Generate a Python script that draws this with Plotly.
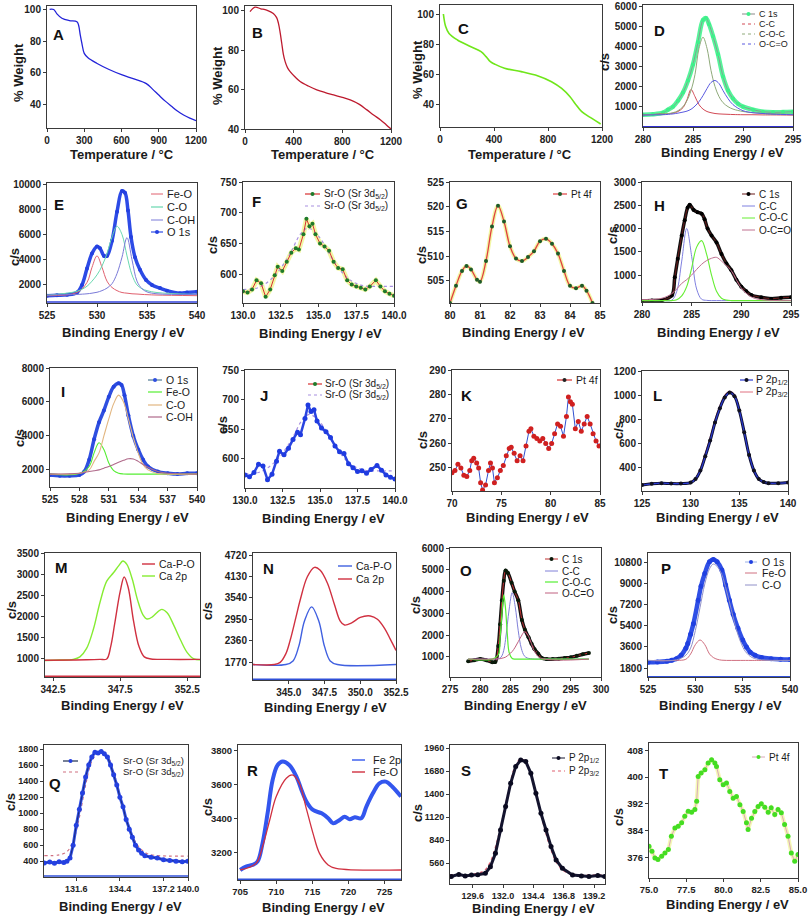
import plotly.graph_objects as go

# ================= DATA =================
# A-C: TGA curves
A_temp = [21, 54, 80, 120, 180, 241, 254, 268, 281, 300, 330, 400, 500, 600, 700, 800, 850, 900, 950, 1000, 1050, 1100, 1150, 1200]
A_weight = [100.4, 100.3, 97.5, 94.7, 93.2, 92.5, 90.4, 84, 78.7, 72.3, 69.5, 66, 62, 58.7, 56, 53, 49.5, 45.7, 42, 38.7, 35.5, 33, 31, 29.4]
B_temp = [41, 82, 130, 178, 233, 260, 275, 290, 302, 315, 330, 350, 371, 410, 453, 520, 590, 660, 728, 800, 865, 940, 1002, 1060, 1112, 1160, 1200]
B_weight = [99.5, 101.8, 101, 100.3, 98.6, 96.5, 93.6, 88.5, 83.5, 78, 74.2, 71, 69.1, 66.5, 64.1, 61.8, 59.9, 58.5, 57.3, 56, 54.8, 52.5, 49.7, 47, 44.7, 42.2, 40]
C_temp = [25, 42, 67, 129, 229, 304, 341, 373, 403, 478, 602, 727, 826, 901, 963, 1000, 1050, 1125, 1190]
C_weight = [100, 91.6, 87, 82.7, 78.2, 74.9, 71.6, 68.2, 66.7, 63.8, 61.6, 58.7, 54.9, 50.4, 44.9, 40.4, 34.9, 30.4, 26.7]

# D: C 1s
D_be = [280, 281, 282, 282.5, 283, 283.5, 284, 284.5, 285, 285.5, 286, 286.3, 286.6, 287, 287.5, 288, 288.5, 289, 289.5, 290, 291, 292, 293, 294, 295]
D_c1s = [600, 620, 700, 850, 1000, 1300, 1700, 2300, 3100, 4200, 5300, 5400, 5100, 4500, 3600, 2500, 1800, 1400, 1150, 1000, 850, 750, 720, 730, 750]
D_fx = [280, 281, 282, 283, 283.5, 284, 284.4, 284.8, 285.2, 285.6, 286, 286.4, 286.8, 287.2, 287.6, 288, 288.5, 289, 290, 291, 292, 293, 295]
D_cc = [600, 610, 630, 680, 760, 950, 1350, 1850, 1500, 1100, 880, 760, 700, 660, 640, 630, 620, 610, 600, 600, 590, 590, 580]
D_coc = [600, 610, 630, 700, 800, 1000, 1300, 1800, 2600, 3900, 4450, 3900, 2800, 2000, 1500, 1200, 1000, 880, 760, 700, 670, 650, 620]
D_occ = [580, 590, 600, 640, 680, 730, 780, 870, 1030, 1250, 1550, 1900, 2200, 2300, 2150, 1800, 1400, 1100, 800, 700, 660, 630, 600]

# E: O 1s
E_be = [525, 526, 527, 528, 528.5, 529, 529.5, 530, 530.3, 530.7, 531, 531.5, 532, 532.5, 532.8, 533.1, 533.4, 533.8, 534.3, 534.9, 535.5, 536.3, 537, 538.3, 539, 540]
E_o1s = [1150, 1180, 1220, 1400, 2000, 3300, 4500, 5050, 4900, 4300, 4300, 5500, 7800, 9450, 9300, 7900, 5800, 4200, 3200, 2400, 2000, 1750, 1550, 1350, 1400, 1470]
E_fx = [525, 528, 529, 529.5, 530, 530.5, 531, 531.5, 532, 532.5, 533, 533.5, 534, 534.5, 535, 536, 540]
E_feo = [1150, 1400, 2200, 3400, 4300, 3400, 2300, 1800, 1550, 1400, 1350, 1300, 1280, 1250, 1230, 1200, 1150]
E_co = [1200, 1500, 1900, 2300, 2800, 3500, 4500, 5800, 6650, 6000, 4300, 2800, 2000, 1700, 1550, 1400, 1250]
E_coh = [1200, 1250, 1300, 1350, 1420, 1550, 1750, 2100, 2900, 4200, 5750, 4000, 2300, 1700, 1450, 1300, 1250]

# F / J: Sr 3d
F_be = [130.0, 130.3, 130.6, 130.9, 131.2, 131.5, 131.8, 132.1, 132.3, 132.6, 132.9, 133.2, 133.5, 133.7, 134.0, 134.2, 134.4, 134.6, 134.8, 135.1, 135.4, 135.7, 136.0, 136.3, 136.6, 136.9, 137.2, 137.5, 137.8, 138.1, 138.4, 138.8, 139.1, 139.4, 139.7, 140.0]
F_cps = [572, 570, 575, 590, 585, 563, 575, 598, 612, 605, 620, 635, 642, 640, 665, 690, 678, 682, 665, 650, 645, 638, 620, 610, 608, 590, 583, 580, 578, 575, 580, 590, 580, 572, 568, 565]
J_cps = [573, 570, 577, 591, 588, 565, 574, 596, 613, 607, 618, 633, 645, 641, 668, 691, 680, 683, 664, 652, 646, 636, 622, 612, 609, 592, 585, 579, 580, 576, 582, 589, 581, 573, 569, 566]
F_fx = [130, 131, 132, 133, 133.8, 134.3, 135, 136, 137, 138, 139, 140]
F_fit = [575, 578, 595, 628, 665, 675, 662, 622, 592, 581, 580, 580]

# G: Pt 4f
G_be = [80.0, 80.2, 80.4, 80.55, 80.7, 80.9, 81.0, 81.2, 81.4, 81.6, 81.8, 82.0, 82.2, 82.4, 82.6, 82.8, 83.0, 83.2, 83.4, 83.6, 83.8, 84.0, 84.2, 84.4, 84.55, 84.75]
G_cps = [500.5, 504, 507, 508, 507.3, 505.2, 504.8, 509, 516, 520.2, 517, 512, 509.5, 509, 509.8, 511, 513, 513.5, 512.5, 510.5, 507, 504, 503.5, 504, 503, 500.5]

# H: C 1s
H_be = [280, 281, 282, 283, 283.3, 283.6, 284, 284.3, 284.6, 284.8, 285.2, 285.6, 286, 286.3, 286.6, 287, 287.5, 288, 288.5, 289, 289.5, 290, 290.5, 291, 292, 293, 294, 295]
H_c1s = [440, 450, 460, 560, 950, 1350, 1850, 2180, 2450, 2510, 2400, 2350, 2320, 2200, 2000, 1850, 1700, 1450, 1250, 1100, 900, 750, 650, 570, 520, 490, 510, 520]
H_fx = [280, 282, 283, 283.5, 284, 284.5, 285, 285.5, 286, 286.5, 287, 287.5, 288, 288.5, 289, 290, 291, 292, 295]
H_cc = [450, 450, 460, 650, 1300, 2000, 1400, 700, 480, 455, 450, 450, 450, 450, 450, 450, 450, 450, 450]
H_coc = [450, 450, 450, 470, 550, 750, 1150, 1600, 1740, 1450, 1000, 650, 500, 460, 450, 450, 450, 450, 450]
H_occ = [470, 500, 600, 700, 820, 900, 1000, 1120, 1230, 1310, 1360, 1380, 1300, 1200, 1090, 720, 530, 470, 450]

# I: O 1s
I_be = [525, 526, 527, 528, 528.5, 529, 529.5, 530, 530.5, 531, 531.5, 532, 532.3, 532.6, 533, 533.5, 534, 534.5, 535, 536, 537, 538, 539, 540]
I_o1s = [1700, 1650, 1650, 1700, 1900, 2600, 3800, 4800, 5500, 6300, 6900, 7100, 7000, 6400, 5200, 4000, 3200, 2600, 2200, 1900, 1800, 1750, 1800, 1800]
I_fx = [525, 528, 529, 529.5, 530, 530.5, 531, 531.5, 532, 532.5, 533, 533.5, 534, 534.5, 535, 536, 537, 540]
I_feo = [1750, 1780, 2200, 3000, 3600, 3200, 2400, 1950, 1800, 1760, 1750, 1750, 1750, 1750, 1750, 1750, 1750, 1750]
I_co = [1750, 1800, 2000, 2500, 3000, 4000, 5000, 5900, 6400, 6000, 5000, 3900, 3000, 2300, 2000, 1780, 1750, 1750]
I_coh = [1750, 1800, 1900, 1950, 2000, 2100, 2200, 2320, 2450, 2560, 2650, 2640, 2500, 2320, 2150, 1900, 1800, 1750]

# K: Pt 4f
K_be = [70.0, 70.3, 70.6, 70.9, 71.2, 71.5, 71.8, 72.0, 72.2, 72.5, 72.7, 72.9, 73.1, 73.4, 73.7, 73.9, 74.1, 74.3, 74.6, 74.9, 75.2, 75.5, 75.8, 76.0, 76.3, 76.6, 76.9, 77.2, 77.5, 77.8, 78.0, 78.3, 78.6, 78.9, 79.2, 79.5, 79.8, 80.1, 80.4, 80.7, 81.0, 81.3, 81.6, 81.8, 82.0, 82.2, 82.5, 82.8, 83.1, 83.4, 83.7, 84.0, 84.3, 84.6, 84.9]
K_cps = [248, 249, 251.5, 250, 247, 246.5, 249, 253, 254, 252, 250, 244, 241, 243, 249, 252, 250, 244, 246, 249, 251, 255, 258, 258.5, 256, 253, 255, 253, 259, 265, 266, 263, 262, 261, 262, 260, 258, 260, 264, 268, 267, 263, 271, 279, 277, 276, 266, 269, 265, 268, 271, 268, 264, 261, 259]

# L: P 2p
L_be = [125, 126, 127, 128, 129, 130, 130.5, 131, 131.5, 132, 132.5, 133, 133.5, 134, 134.5, 135, 135.5, 136, 136.5, 137, 137.5, 138, 139, 140]
L_p12 = [250, 260, 265, 262, 262, 270, 300, 370, 490, 620, 770, 890, 980, 1020, 990, 870, 690, 500, 370, 300, 275, 265, 265, 270]
L_p32 = [255, 262, 265, 263, 263, 272, 305, 385, 510, 640, 790, 905, 995, 1030, 1000, 875, 690, 500, 365, 298, 274, 265, 265, 270]

# M: Ca 2p
M_be = [341.9, 343, 344, 344.5, 345, 345.5, 346, 346.5, 347, 347.4, 347.7, 348, 348.4, 348.8, 349.2, 349.5, 349.9, 350.3, 350.6, 351, 351.5, 352, 352.5, 353, 353.45]
M_ca2p = [965, 975, 990, 1050, 1250, 1700, 2350, 2850, 3050, 3220, 3330, 3250, 2900, 2400, 2050, 1950, 2000, 2120, 2180, 2100, 1800, 1450, 1150, 1000, 980]
M_fx = [341.9, 345, 346, 346.5, 346.8, 347.1, 347.5, 347.8, 348.1, 348.5, 348.9, 349.3, 349.8, 351, 353.45]
M_cpo = [970, 980, 990, 1000, 1300, 1850, 2600, 2950, 2700, 1900, 1300, 1050, 1000, 990, 990]

# N: Ca 2p
N_be = [342.5, 344, 344.4, 344.8, 345.1, 345.5, 345.8, 346.3, 346.8, 347.2, 347.7, 348.2, 348.6, 348.9, 349.4, 350, 350.7, 351.2, 351.7, 352.1, 352.5]
N_ca2p = [1700, 1700, 1760, 2000, 2370, 3000, 3480, 4120, 4380, 4300, 3950, 3350, 2900, 2790, 2850, 3000, 3040, 2950, 2700, 2400, 2090]
N_fx = [342.5, 344.8, 345.3, 345.7, 346.1, 346.6, 347.1, 347.5, 347.9, 348.4, 352.5]
N_cpo = [1700, 1700, 1800, 2200, 2900, 3290, 2900, 2200, 1800, 1700, 1700]

# O: C 1s
O_be = [278, 279, 280, 281, 282, 282.5, 283, 283.3, 283.6, 283.9, 284.2, 284.6, 285.2, 285.7, 286.3, 286.9, 287.4, 288, 288.5, 289, 289.6, 290.2, 291, 292, 293, 294, 295, 296, 297, 298]
O_c1s = [800, 850, 900, 850, 760, 770, 1500, 2500, 3600, 4500, 4970, 4850, 4400, 4000, 3600, 2700, 2250, 1900, 1600, 1350, 1150, 950, 900, 900, 920, 950, 980, 1050, 1120, 1180]
O_fx = [278, 282, 283, 283.3, 283.6, 283.9, 284.2, 284.5, 284.8, 285.3, 285.8, 286.3, 286.8, 287.3, 287.8, 288.3, 289, 290, 298]
O_cc = [900, 900, 920, 950, 1050, 1300, 1800, 2500, 3200, 3950, 3300, 2200, 1400, 1050, 950, 920, 900, 900, 900]
O_coc = [900, 900, 1100, 1900, 3000, 3850, 3200, 2000, 1200, 930, 900, 900, 900, 900, 900, 900, 900, 900, 900]
O_occ = [900, 900, 910, 920, 940, 960, 990, 1050, 1120, 1250, 1450, 1700, 1950, 2150, 2050, 1750, 1250, 950, 900]

# P: O 1s
P_be = [525, 526, 527, 527.5, 528, 528.5, 529, 529.2, 529.5, 529.8, 530.3, 530.6, 531, 531.5, 531.9, 532.3, 532.8, 533.2, 533.6, 534, 534.5, 535, 535.4, 535.8, 536.3, 537, 538, 539, 540]
P_o1s = [2300, 2320, 2380, 2460, 2600, 2890, 3500, 3900, 4700, 5600, 7600, 8800, 9900, 10900, 11100, 10900, 10200, 8900, 7600, 6400, 5200, 4200, 3600, 3150, 2900, 2700, 2600, 2550, 2520]
P_fx = [525, 528, 529, 529.5, 530, 530.5, 531, 531.5, 531.9, 532.3, 532.8, 533.3, 533.8, 534.3, 534.8, 535.3, 536, 537, 540]
P_feo = [2450, 2450, 2550, 3000, 3800, 4200, 3800, 3000, 2700, 2550, 2470, 2450, 2450, 2450, 2450, 2450, 2450, 2450, 2450]
P_co = [2450, 2500, 2900, 3500, 5000, 7000, 9000, 10300, 10700, 10500, 9800, 8400, 6800, 5200, 4000, 3200, 2700, 2500, 2450]

# Q: Sr 3d
Q_be = [129.55, 129.9, 130.2, 130.5, 130.8, 131.0, 131.2, 131.4, 131.6, 131.8, 132.0, 132.2, 132.4, 132.6, 132.8, 133.0, 133.2, 133.4, 133.6, 133.8, 134.0, 134.2, 134.4, 134.6, 134.8, 135.0, 135.2, 135.4, 135.6, 135.8, 136.0, 136.4, 136.8, 137.2, 137.6, 138.0, 138.4, 138.75]
Q_cps = [380, 390, 375, 395, 385, 400, 440, 600, 850, 1050, 1250, 1450, 1600, 1700, 1760, 1750, 1770, 1740, 1700, 1600, 1480, 1350, 1200, 1080, 920, 800, 700, 600, 540, 500, 470, 450, 440, 420, 410, 400, 395, 400]
Q_fx = [129.55, 130.5, 131, 131.4, 131.8, 132.2, 132.6, 133, 133.3, 133.7, 134.1, 134.5, 134.9, 135.3, 135.7, 136.1, 136.6, 137.5, 138.75]
Q_fit = [470, 480, 520, 650, 950, 1350, 1650, 1760, 1770, 1680, 1450, 1150, 880, 680, 560, 500, 475, 465, 465]
Q_ticks = [131.6, 134.4, 137.2, 138.77]
Q_ticklabels = ["131.6", "134.4", "137.2", "140.0"]

# R: Fe 2p
R_be = [705, 705.8, 706.7, 707.4, 708.1, 708.8, 709.5, 710.2, 710.9, 711.8, 712.8, 713.5, 714.2, 715.1, 716.3, 717.2, 717.9, 718.8, 719.5, 720.2, 720.9, 721.8, 722.5, 723.4, 724.3, 725.2, 726.1, 727.3]
R_fe2p = [3096, 3116, 3126, 3145, 3253, 3430, 3627, 3715, 3735, 3715, 3647, 3568, 3499, 3450, 3430, 3401, 3371, 3391, 3410, 3395, 3407, 3401, 3470, 3548, 3607, 3617, 3587, 3529]
R_fx = [705, 707.2, 708.1, 709.1, 710, 711.4, 712.3, 713.2, 714.1, 715.1, 716, 717.2, 718.3, 727.3]
R_feo = [3096, 3135, 3233, 3391, 3529, 3637, 3656, 3607, 3470, 3312, 3194, 3126, 3106, 3096]

# S: P 2p
S_be = [127.9, 128.5, 129.0, 129.5, 130.0, 130.6, 131.0, 131.4, 131.8, 132.2, 132.6, 133.0, 133.4, 133.8, 134.2, 134.6, 135.0, 135.4, 135.8, 136.2, 136.7, 137.5, 138.2, 138.8, 139.5, 140.05]
S_p12 = [400, 425, 405, 418, 420, 438, 519, 682, 966, 1250, 1534, 1737, 1818, 1798, 1656, 1412, 1169, 966, 763, 600, 499, 418, 405, 398, 410, 398]
S_fx = [127.8, 129.5, 130.5, 131.0, 131.4, 131.8, 132.2, 132.6, 133.0, 133.4, 133.8, 134.2, 134.6, 135.0, 135.4, 135.8, 136.2, 136.7, 137.5, 140.07]
S_fit = [420, 425, 470, 580, 760, 1000, 1280, 1560, 1760, 1830, 1790, 1640, 1400, 1150, 920, 720, 580, 480, 430, 420]

# T: Pt 4f
T_be = [75.0, 75.2, 75.4, 75.6, 75.85, 76.07, 76.3, 76.5, 76.74, 76.96, 77.19, 77.4, 77.63, 77.86, 78.08, 78.2, 78.3, 78.5, 78.75, 78.97, 79.2, 79.42, 79.53, 79.75, 79.98, 80.2, 80.42, 80.65, 80.87, 81.1, 81.32, 81.54, 81.65, 81.88, 82.1, 82.32, 82.54, 82.77, 83.0, 83.2, 83.44, 83.66, 83.88, 84.1, 84.33, 84.55, 84.78, 85.0]
T_cps = [379.3, 377.8, 375.8, 375.3, 376.3, 377.3, 378.3, 382.3, 384.8, 385.3, 386.3, 388.3, 389.8, 389.5, 390.3, 392.8, 400.2, 401.2, 402.2, 404.2, 405.2, 404.2, 403.2, 399.2, 397.7, 398.2, 395.7, 393.7, 394.2, 391.7, 389.7, 386.3, 384.3, 387.7, 389.7, 391.2, 392, 391, 389.5, 390.8, 388.8, 390.3, 389.3, 385.8, 382.3, 377.3, 374.8, 376.8]

# ================= LAYOUT =================
W, H = 810, 920
FONT = "Liberation Sans, Arial, sans-serif"
TEMP = "Temperature / °C"
BE = "Binding Energy / eV"


def X(p):
    return p / W


def Y(p):
    return 1 - p / H


# letter, box (l, t, r, b) px, x range, x ticks, x ticktext, x fmt, y range, y ticks,
# y title, y title pos, x title, x title pos, letter pos, tick font size
panels = [
    ("A", (47, 6, 196, 128), [0, 1200], [0, 300, 600, 900, 1200], None, None, [24.7, 102.5], [40, 60, 80, 100], "% Weight", (18, 73), TEMP, (122, 154), (58, 34), 10),
    ("B", (245, 6, 391, 129), [0, 1200], [0, 400, 800, 1200], None, None, [40, 102.4], [40, 60, 80, 100], "% Weight", (217, 75), TEMP, (323, 155), (257, 33), 10),
    ("C", (440, 5, 602, 127), [0, 1200], [0, 400, 800, 1200], None, None, [24.7, 106], [40, 60, 80, 100], "% Weight", (417, 70), TEMP, (520, 154), (463, 28), 10),
    ("D", (643, 5, 793, 127), [280, 295], [280, 285, 290, 295], None, None, [-10, 6050], [1000, 2000, 3000, 4000, 5000, 6000], "c/s", (605, 62), BE, (722, 153), (659, 30), 10),
    ("E", (47, 183, 197, 303), [525, 540], [525, 530, 535, 540], None, None, [570, 10080], [2000, 4000, 6000, 8000, 10000], "c/s", (14, 257), BE, (123, 332), (59, 204), 10),
    ("F", (243, 182, 394, 303), [130, 140], [130, 132.5, 135, 137.5, 140], None, ".1f", [553, 750], [600, 650, 700, 750], "c/s", (213, 245), BE, (320, 333), (256, 202), 10),
    ("G", (450, 182, 600, 303), [80, 85], [80, 81, 82, 83, 84, 85], None, None, [500.5, 525], [505, 510, 515, 520, 525], "c/s", (421, 255), BE, (523, 332), (462, 203), 10),
    ("H", (642, 182, 791, 302), [280, 295], [280, 285, 290, 295], None, None, [420, 3000], [1000, 1500, 2000, 2500, 3000], "c/s", (612, 235), BE, (718, 332), (659, 205), 10),
    ("I", (50, 368, 197, 487), [525, 540], [525, 528, 531, 534, 537, 540], None, None, [990, 8000], [2000, 4000, 6000, 8000], "c/s", (19, 438), BE, (127, 517), (63, 391), 10),
    ("J", (245, 370, 395, 488), [130, 140], [130, 132.5, 135, 137.5, 140], None, ".1f", [551, 750], [600, 650, 700, 750], "c/s", (223, 425), BE, (323, 518), (264, 395), 10),
    ("K", (452, 370, 600, 491), [70, 85], [70, 75, 80, 85], None, None, [240.6, 290], [250, 260, 270, 280, 290], "c/s", (422, 440), BE, (527, 517), (467, 395), 10),
    ("L", (642, 371, 788, 491), [125, 140], [125, 130, 135, 140], None, None, [200, 1200], [400, 600, 800, 1000, 1200], "c/s", (618, 430), BE, (717, 517), (657, 396), 10),
    ("M", (45, 553, 200, 677), [341.9, 353.45], [342.5, 347.5, 352.5], None, ".1f", [571, 3520], [1000, 1500, 2000, 2500, 3000, 3500], "c/s", (11, 610), BE, (122, 705), (61, 567), 10),
    ("N", (253, 553, 396, 680), [342.5, 352.5], [345, 347.5, 350, 352.5], None, ".1f", [1274, 4775], [1770, 2360, 2950, 3540, 4130, 4720], "c/s", (207, 611), BE, (325, 707), (268, 568), 10),
    ("O", (450, 548, 601, 677), [275, 300], [275, 280, 285, 290, 295, 300], None, None, [78, 6000], [1000, 2000, 3000, 4000, 5000, 6000], "c/s", (415, 605), BE, (525, 705), (466, 570), 10),
    ("P", (648, 553, 790, 677), [525, 540], [525, 530, 535, 540], None, None, [1030, 11650], [1800, 3600, 5400, 7200, 9000, 10800], "c/s", (612, 615), BE, (720, 705), (666, 568), 10),
    ("Q", (44, 745, 188, 877), [129.53, 138.77], Q_ticks, Q_ticklabels, None, [204, 1850], [400, 600, 800, 1000, 1200, 1400, 1600, 1800], "c/s", (10, 802), BE, (120, 906), (55, 783), 9),
    ("R", (238, 745, 401, 880), [704.7, 727.3], [705, 710, 715, 720, 725], None, None, [3037, 3833], [3200, 3400, 3600, 3800], "c/s", (207, 807), BE, (323, 907), (252, 770), 9.5),
    ("S", (450, 745, 605, 884), [127.8, 140.07], [129.6, 132.0, 134.4, 136.8, 139.2], None, ".1f", [308, 2000], [560, 840, 1120, 1400, 1680, 1960], "c/s", (417, 813), BE, (533, 908), (466, 770), 9),
    ("T", (649, 743, 798, 878), [75, 85], [75, 77.5, 80, 82.5, 85], None, ".1f", [369.8, 410.2], [376, 384, 392, 400, 408], "c/s", (618, 817), BE, (727, 904), (663, 773), 9.5),
]

fig = go.Figure()
layout = dict(width=W, height=H, autosize=False,
              margin=dict(l=0, r=0, t=0, b=0, pad=0, autoexpand=False),
              paper_bgcolor="white", plot_bgcolor="white", showlegend=False)
annotations = []
shapes = []
AX = "#3a3a3a"
titlefont = dict(family=FONT, size=13, color="#1a1a1a", weight="bold")

idx = {}
for i, p in enumerate(panels, start=1):
    (letter, box, xr, xt, xtt, xfmt, yr, yt, ytitle, ypos, xtitle, xpos, lpos, tfs) = p
    idx[letter] = i
    l, t, r, b = box
    tickfont = dict(family=FONT, size=tfs, color="#222", weight="bold")
    xk = "xaxis" if i == 1 else f"xaxis{i}"
    yk = "yaxis" if i == 1 else f"yaxis{i}"
    xa = dict(domain=[X(l), X(r)], range=xr, anchor="y" if i == 1 else f"y{i}",
              tickvals=xt, showline=True, mirror=True, linecolor=AX, linewidth=1,
              ticks="outside", ticklen=3, tickcolor=AX, showgrid=False, zeroline=False,
              tickfont=tickfont, tickangle=0, fixedrange=True, automargin=False)
    if xtt is not None:
        xa["ticktext"] = xtt
    if xfmt:
        xa["tickformat"] = xfmt
    ya = dict(domain=[Y(b), Y(t)], range=yr, anchor="x" if i == 1 else f"x{i}",
              tickvals=yt, tickformat="d", showline=True, mirror=True, linecolor=AX, linewidth=1,
              ticks="outside", ticklen=3, tickcolor=AX, showgrid=False, zeroline=False,
              tickfont=tickfont, fixedrange=True, automargin=False)
    layout[xk] = xa
    layout[yk] = ya
    if ytitle:
        annotations.append(dict(text=ytitle, x=X(ypos[0]), y=Y(ypos[1]), xref="paper", yref="paper",
                                textangle=-90, showarrow=False, xanchor="center", yanchor="middle",
                                font=titlefont))
    annotations.append(dict(text=xtitle, x=X(xpos[0]), y=Y(xpos[1]), xref="paper", yref="paper",
                            showarrow=False, xanchor="center", yanchor="middle", font=titlefont))
    annotations.append(dict(text=letter, x=X(lpos[0]), y=Y(lpos[1]), xref="paper", yref="paper",
                            showarrow=False, xanchor="center", yanchor="middle",
                            font=dict(family=FONT, size=15, color="#111", weight="bold")))


def tr(letter, x, y, color, width=1.0, dash="solid", shape="spline", mcolor=None, msize=3, mode=None):
    i = idx[letter]
    if mode is None:
        mode = "lines+markers" if mcolor else "lines"
    kw = dict(x=x, y=y, mode=mode, xaxis="x" if i == 1 else f"x{i}", yaxis="y" if i == 1 else f"y{i}",
              line=dict(color=color, width=width, dash=dash, shape=shape), hoverinfo="skip", showlegend=False)
    if mcolor:
        kw["marker"] = dict(color=mcolor, size=msize, line=dict(width=0))
    fig.add_trace(go.Scatter(**kw))


def hline(letter, xr, yv, color, width=1.2):
    tr(letter, xr, [yv, yv], color, width=width, shape="linear")


# A-C
tr("A", A_temp, A_weight, "#2323d8", 1.3)
tr("B", B_temp, B_weight, "#bd1a2e", 1.3)
tr("C", C_temp, C_weight, "#6fe61a", 1.6)

# D
hline("D", [280, 295], 0, "#3030d0", 1.5)
tr("D", D_be, D_c1s, "#55f59a", 4.5)
tr("D", D_be, D_c1s, "#8a8a8a", 0.8, mcolor="#3ef08a", msize=4)
tr("D", D_fx, D_cc, "#d24a55", 1)
tr("D", D_fx, D_coc, "#8faa7a", 1)
tr("D", D_fx, D_occ, "#5a5ae0", 1)

# E
hline("E", [525, 540], 640, "#3040d8", 1.5)
tr("E", E_be, E_o1s, "#2d4be6", 3.5)
tr("E", E_be, E_o1s, "#2d4be6", 1, mcolor="#2440e0", msize=4)
tr("E", E_fx, E_feo, "#e0606e", 1)
tr("E", E_fx, E_co, "#68d8b0", 1)
tr("E", E_fx, E_coh, "#7a7ad8", 1)

# F
tr("F", F_be, F_cps, "rgba(232,240,90,0.55)", 5, shape="linear")
tr("F", F_fx, F_fit, "#a890e0", 1.2, dash="dot")
tr("F", F_be, F_cps, "#d83030", 1, shape="linear", mcolor="#1e7a2a", msize=4)

# G
tr("G", G_be, G_cps, "rgba(232,240,90,0.55)", 4)
tr("G", G_be, G_cps, "#e04040", 1.3, mcolor="#1d5a2a", msize=4)

# H
tr("H", H_be, H_c1s, "#111111", 3.5)
tr("H", H_be, H_c1s, "#6a1a1a", 1, mcolor="#000000", msize=4)
tr("H", H_fx, H_cc, "#7f80e0", 1)
tr("H", H_fx, H_coc, "#66ee33", 1.1)
tr("H", H_fx, H_occ, "#c07090", 1)

# I
tr("I", I_be, I_o1s, "#2f4fe0", 3.5)
tr("I", I_be, I_o1s, "#2f4fe0", 1, mcolor="#2443dd", msize=4)
tr("I", I_fx, I_feo, "#55ee33", 1.1)
tr("I", I_fx, I_co, "#e2b680", 1.1)
tr("I", I_fx, I_coh, "#b06a8a", 1.1)

# J
tr("J", F_fx, F_fit, "#a890e0", 1.2, dash="dot")
tr("J", F_be, J_cps, "#2a44e0", 2.5, shape="linear", mcolor="#1f3be0", msize=5)

# K
tr("K", K_be, K_cps, "#3050d0", 1, shape="linear", mcolor="#d02020", msize=5)

# L
tr("L", L_be, L_p32, "#e07080", 1.5)
tr("L", L_be, L_p12, "#101030", 3)
tr("L", L_be, L_p12, "#2a3ad0", 1.2, mcolor="#101020", msize=4)

# M
hline("M", [341.9, 353.45], 590, "#d03040", 1.5)
tr("M", M_be, M_ca2p, "#86ec32", 1.4)
tr("M", M_fx, M_cpo, "#d03040", 1.4)

# N
hline("N", [342.5, 352.5], 1295, "#3050d8", 1.5)
tr("N", N_fx, N_cpo, "#4060e0", 1.4)
tr("N", N_be, N_ca2p, "#d03040", 1.4)

# O
tr("O", O_be, O_c1s, "#111111", 3.5)
tr("O", O_be, O_c1s, "#c03030", 1, mcolor="#0a1a0a", msize=4)
tr("O", O_fx, O_cc, "#8080d8", 1)
tr("O", O_fx, O_coc, "#55ee33", 1.2)
tr("O", O_fx, O_occ, "#c06080", 1)

# P
hline("P", [525, 540], 1060, "#3050d8", 1.5)
tr("P", P_be, P_o1s, "#2f4fe6", 4.5)
tr("P", P_be, P_o1s, "#2f4fe6", 1, mcolor="#2040e0", msize=5)
tr("P", P_fx, P_feo, "#d07080", 1)
tr("P", P_fx, P_co, "#9090c8", 1)

# Q
hline("Q", [129.53, 138.77], 215, "#3050d8", 1.5)
tr("Q", Q_fx, Q_fit, "#d07080", 1.2, dash="dot")
tr("Q", Q_be, Q_cps, "#2f4fe6", 3, shape="linear")
tr("Q", Q_be, Q_cps, "#1a2a80", 1, shape="linear", mcolor="#2440e0", msize=5)

# R
hline("R", [704.7, 727.3], 3042, "#3050d8", 1.5)
tr("R", R_be, R_fe2p, "#3356ee", 4)
tr("R", R_fx, R_feo, "#d03040", 1.3)

# S
tr("S", S_fx, S_fit, "#e06070", 1.3, dash="dot")
tr("S", S_be, S_p12, "#14142e", 3, shape="linear")
tr("S", S_be, S_p12, "#14142e", 1, shape="linear", mcolor="#0a0a20", msize=5)

# T
tr("T", T_be, T_cps, "rgba(232,240,90,0.45)", 4, shape="linear")
tr("T", T_be, T_cps, "#d8a8b8", 1, shape="linear", mcolor="#44dd22", msize=5)


# ================= manual legends =================
def legend(entries, x0, x1, xt, ys, size=10):
    for (label, color, dash, width, mcol), yy in zip(entries, ys):
        shapes.append(dict(type="line", xref="paper", yref="paper", x0=X(x0), x1=X(x1), y0=Y(yy), y1=Y(yy),
                           line=dict(color=color, width=width, dash=dash)))
        if mcol:
            xm = (x0 + x1) / 2
            shapes.append(dict(type="circle", xref="paper", yref="paper", x0=X(xm - 2), x1=X(xm + 2),
                               y0=Y(yy + 2), y1=Y(yy - 2), fillcolor=mcol, line=dict(width=0)))
        annotations.append(dict(text=label, x=X(xt), y=Y(yy), xref="paper", yref="paper", xanchor="left",
                                yanchor="middle", showarrow=False, borderpad=0,
                                font=dict(family=FONT, size=size, color="#1a1a1a")))


SR = "Sr-O (Sr 3d<sub>5/2</sub>)"
legend([("C 1s", "#8a8a8a", "solid", 1, "#3ef08a"), ("C-C", "#d24a55", "dot", 1, None),
        ("C-O-C", "#8faa7a", "dot", 1, None), ("O-C=O", "#5a5ae0", "dot", 1, None)],
       742, 755, 758, [14, 24, 34, 44], size=9)
legend([("Fe-O", "#e0606e", "solid", 1, None), ("C-O", "#68d8b0", "solid", 1.2, None),
        ("C-OH", "#7a7ad8", "solid", 1, None), ("O 1s", "#2d4be6", "solid", 1.2, "#2440e0")],
       151, 163, 166, [194, 207, 220, 232], size=11)
legend([(SR, "#d83030", "solid", 1.2, "#1e7a2a"), (SR, "#a890e0", "dot", 1.2, None)],
       305, 320, 323, [194, 206], size=10)
legend([("Pt 4f", "#e04040", "solid", 1.2, "#1d5a2a")], 553, 567, 570, [194], size=10)
legend([("C 1s", "#6a1a1a", "solid", 1, "#000000"), ("C-C", "#7f80e0", "solid", 1, None),
        ("C-O-C", "#66ee33", "solid", 1, None), ("O-C=O", "#c07090", "solid", 1, None)],
       742, 755, 758, [194, 206, 218, 230], size=10)
legend([("O 1s", "#306080", "solid", 1, "#2f4fe0"), ("Fe-O", "#55ee33", "solid", 1.2, None),
        ("C-O", "#e2b680", "solid", 1.2, None), ("C-OH", "#b06a8a", "solid", 1.2, None)],
       148, 162, 165, [380, 392, 405, 417], size=10.5)
legend([(SR, "#d83030", "solid", 1.2, "#1e7a2a"), (SR, "#a890e0", "dot", 1.2, None)],
       308, 322, 324, [384, 395], size=10)
legend([("Pt 4f", "#d83030", "solid", 1.2, "#222222")], 557, 572, 575, [380], size=10.5)
legend([("P 2p<sub>1/2</sub>", "#2a3ad0", "solid", 1.2, "#101020"), ("P 2p<sub>3/2</sub>", "#e07080", "solid", 1, None)],
       740, 753, 755, [380, 392], size=10.5)
legend([("Ca-P-O", "#d03040", "solid", 1.4, None), ("Ca 2p", "#86ec32", "solid", 1.4, None)],
       142, 155, 158, [564, 576], size=10.5)
legend([("Ca-P-O", "#4060e0", "solid", 1.4, None), ("Ca 2p", "#d03040", "solid", 1.4, None)],
       338, 352, 355, [566, 579], size=10.5)
legend([("C 1s", "#c03030", "solid", 1, "#0a1a0a"), ("C-C", "#8080d8", "solid", 1, None),
        ("C-O-C", "#55ee33", "solid", 1.2, None), ("O-C=O", "#c06080", "solid", 1, None)],
       545, 558, 561, [559, 571, 582, 593], size=10)
legend([("O 1s", "#9ab0e8", "solid", 1, "#2040e0"), ("Fe-O", "#d07080", "solid", 1, None),
        ("C-O", "#9090c8", "solid", 1, None)],
       745, 757, 761, [562, 573, 585], size=10.5)
legend([(SR, "#1a2a50", "solid", 1.2, "#2440e0"), (SR, "#d07080", "dot", 1.2, None)],
       63, 78, 122, [761, 772], size=9.5)
legend([("Fe 2p", "#3356ee", "solid", 1.4, None), ("Fe-O", "#d03040", "solid", 1.4, None)],
       352, 365, 372, [760, 772], size=11)
legend([("P 2p<sub>1/2</sub>", "#14142e", "solid", 1, "#0a0a20"), ("P 2p<sub>3/2</sub>", "#e06070", "dot", 1.2, None)],
       552, 565, 568, [758, 771], size=10)
legend([("Pt 4f", "#d8a8b8", "solid", 1, "#44dd22")], 752, 765, 768, [757], size=10)

layout["annotations"] = annotations
layout["shapes"] = shapes
fig.update_layout(**layout)
fig.write_html("out.html", config={"displayModeBar": False, "staticPlot": True},
               post_script="document.body.style.margin='0';document.body.style.overflow='hidden';")
